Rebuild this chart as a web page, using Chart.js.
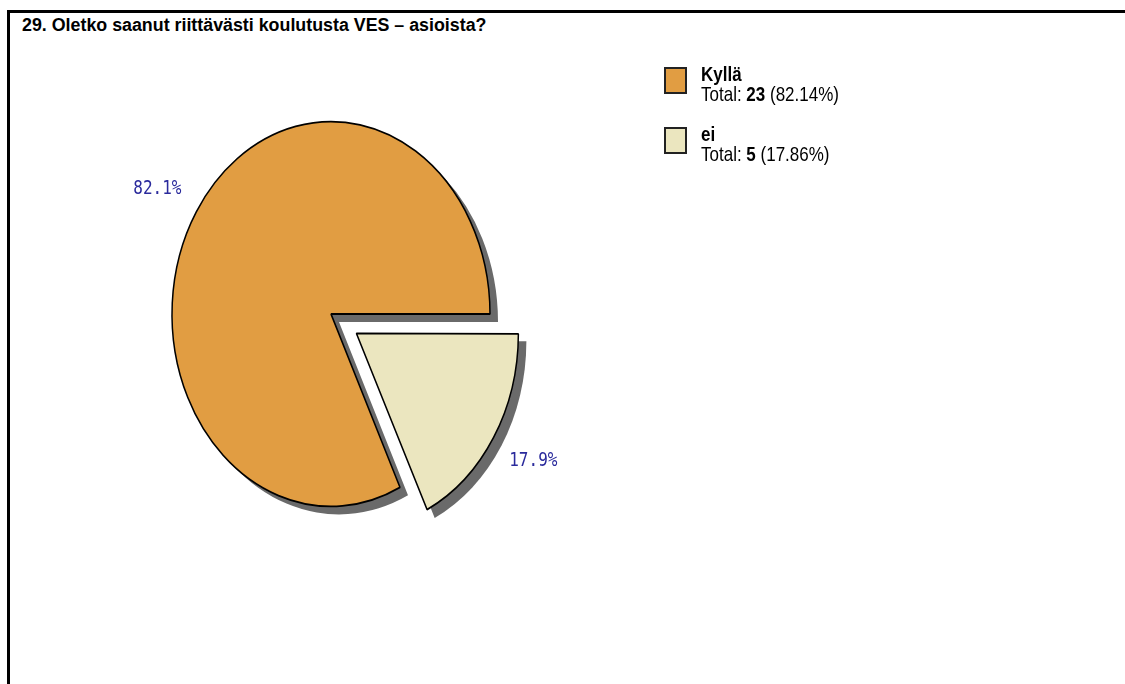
<!DOCTYPE html>
<html>
<head>
<meta charset="utf-8">
<title>VES-koulutus</title>
<script src="https://cdn.jsdelivr.net/npm/chart.js@4"></script>
<style>
  body { margin: 0; width: 1125px; height: 684px; overflow: hidden; position: relative; background: #fff;
         font-family: "Liberation Sans", Arial, sans-serif; color: #000; }
  #frame { position: absolute; left: 7px; top: 10px; right: 0; bottom: 0;
           border-top: 3px solid #000; border-left: 3px solid #000; }
  #title { position: absolute; left: 22px; top: 15px; font-size: 18px; font-weight: bold; white-space: nowrap;
           transform-origin: 0 0; transform: scaleX(0.99); }
  #pie { position: absolute; left: 0; top: 0; }
  #legend { position: absolute; left: 664px; top: 66px; }
  .item { position: relative; height: 60px; }
  .swatch { position: absolute; left: 0; top: 1px; width: 19px; height: 23px; border: 2px solid #222; }
  .txt { position: absolute; left: 37px; top: -2px; white-space: nowrap; font-size: 17px; line-height: 17px;
         transform-origin: 0 0; transform: scale(1.0, 1.18); }
</style>
</head>
<body>
<div id="frame"></div>
<div id="title">29. Oletko saanut riittävästi koulutusta VES – asioista?</div>
<canvas id="pie" width="1125" height="684"></canvas>
<div id="legend"></div>

<script>
const answers = ['Kyllä', 'ei'];
const totals = [23, 5];
const sliceColors = ['#E19D42', '#EBE6BF'];

const STRETCH = 1.21;   // pie is drawn taller than wide
const SHADOW = 8;

const sum = totals.reduce((a, b) => a + b, 0);
const pct = totals.map(v => v / sum * 100);

// legend built from the same arrays
const legend = document.getElementById('legend');
answers.forEach((name, i) => {
     const item = document.createElement('div');
     item.className = 'item';
     item.innerHTML = `
          <div class="swatch" style="background:${sliceColors[i]}"></div>
          <div class="txt"><b>${name}</b><br>Total: <b>${totals[i]}</b> (${pct[i].toFixed(2)}%)</div>
     `;
     legend.appendChild(item);
});

function squash(ctx, arc) {
     ctx.translate(arc.x, arc.y);
     ctx.scale(1, STRETCH);
     ctx.translate(-arc.x, -arc.y);
}

// same shift Chart.js applies to an exploded arc
function arcShift(arc) {
     const off = (arc.options.offset || 0) / 4;
     const mid = (arc.startAngle + arc.endAngle) / 2;
     const r = arc.outerRadius + off * (1 - Math.sin(Math.min(Math.PI, arc.circumference)));
     return { off, mid, r, x: arc.x + Math.cos(mid) * off, y: arc.y + Math.sin(mid) * off };
}

const pieLook = {
     id: 'pieLook',
     beforeDatasetsDraw(chart) {
          const ctx = chart.ctx;
          const arcs = chart.getDatasetMeta(0).data;
          // flat grey drop shadow under every slice
          arcs.forEach(arc => {
               const s = arcShift(arc);
               ctx.save();
               ctx.translate(SHADOW, SHADOW);
               squash(ctx, arc);
               ctx.beginPath();
               ctx.moveTo(s.x, s.y);
               ctx.arc(s.x, s.y, s.r, arc.startAngle, arc.endAngle);
               ctx.closePath();
               ctx.fillStyle = '#6a6a6a';
               ctx.fill();
               ctx.restore();
          });
          ctx.save();
          squash(ctx, arcs[0]);
     },
     afterDatasetsDraw(chart) {
          const ctx = chart.ctx;
          ctx.restore();
          chart.getDatasetMeta(0).data.forEach((arc, i) => {
               const s = arcShift(arc);
               const lx = s.x + Math.cos(s.mid) * s.r * 1.29;
               const ly = arc.y + (s.y - arc.y) * STRETCH + Math.sin(s.mid) * s.r * STRETCH * 1.22;
               ctx.save();
               ctx.translate(lx, ly);
               ctx.scale(1, 1.2);
               ctx.font = '16px "DejaVu Sans Mono", monospace';
               ctx.fillStyle = '#2a2a9c';
               ctx.textAlign = 'center';
               ctx.textBaseline = 'middle';
               ctx.fillText(pct[i].toFixed(1) + '%', 0, 0);
               ctx.restore();
          });
     }
};

new Chart(document.getElementById('pie'), {
     type: 'pie',
     data: {
          labels: answers,
          datasets: [{
               data: totals,
               backgroundColor: sliceColors,
               borderColor: '#000',
               borderWidth: 1.5,
               offset: [0, 120],
               hoverOffset: 0,
               radius: 159
          }]
     },
     options: {
          responsive: false,
          animation: false,
          rotation: 90 + 360 * totals[1] / sum,
          layout: { padding: { left: 0, right: 463, top: 0, bottom: 56 } },
          plugins: {
               legend: { display: false },
               tooltip: { enabled: false }
          }
     },
     plugins: [pieLook]
});
</script>
</body>
</html>
